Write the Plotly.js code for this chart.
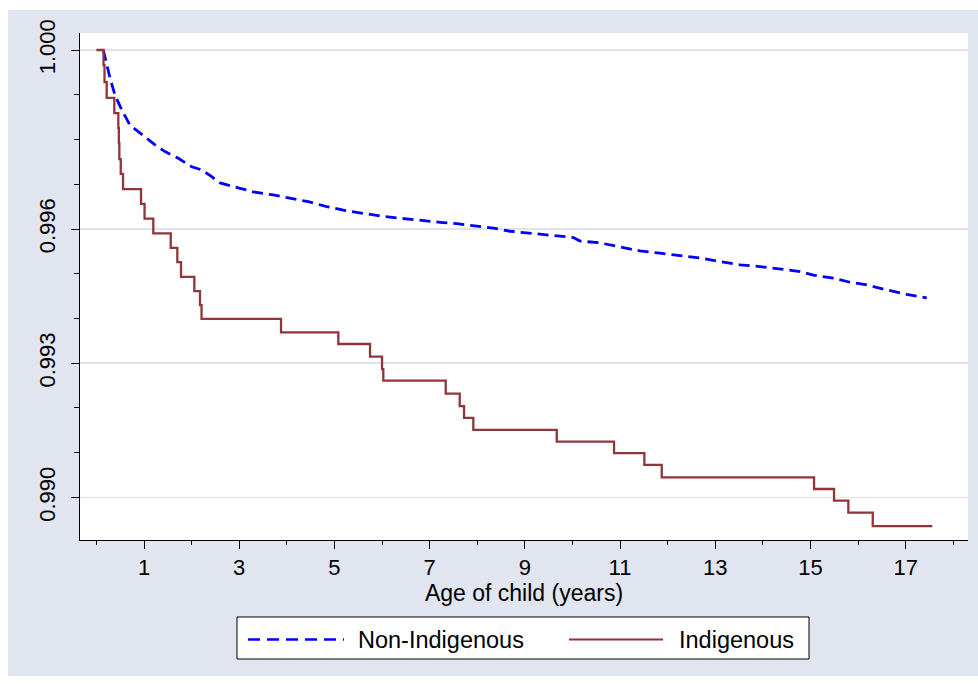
<!DOCTYPE html>
<html>
<head>
<meta charset="utf-8">
<script src="https://cdn.plot.ly/plotly-3.0.1.min.js"></script>
<style>
  html, body { margin: 0; padding: 0; background: #ffffff; }
  #chart { position: absolute; left: 8px; top: 10px; width: 970px; height: 666px; }
</style>
</head>
<body>
<div id="chart"></div>
<script>
// ---- Data ----
const seriesNames = ["Non-Indigenous", "Indigenous"];

// Non-Indigenous survival (Kaplan-Meier, many small steps)
const nonIndigAge = [0.145, 0.216, 0.286, 0.391, 0.532, 0.706, 0.880, 1.021, 1.231, 1.441,
  1.721, 2.002, 2.212, 2.422, 2.597, 3.017, 3.296, 3.716, 4.067, 4.452, 4.838, 5.187,
  5.607, 5.958, 6.378, 6.798, 7.218, 7.569, 7.989, 8.338, 8.689, 9.179, 9.494, 10.019,
  10.160, 10.580, 10.996, 11.420, 11.840, 12.261, 12.681, 13.101, 13.521, 13.941,
  14.361, 14.782, 15.061, 15.481, 15.832, 16.183, 16.603, 17.023, 17.443];
const nonIndigSurv = [1.00000, 0.99966, 0.99937, 0.99899, 0.99866, 0.99832, 0.99817,
  0.99806, 0.99788, 0.99773, 0.99758, 0.99739, 0.99732, 0.99717, 0.99703, 0.99691,
  0.99683, 0.99676, 0.99669, 0.99661, 0.99650, 0.99642, 0.99635, 0.99629, 0.99624,
  0.99619, 0.99615, 0.99612, 0.99607, 0.99602, 0.99595, 0.99590, 0.99587, 0.99581,
  0.99573, 0.99569, 0.99560, 0.99551, 0.99546, 0.99540, 0.99535, 0.99527, 0.99520,
  0.99516, 0.99510, 0.99505, 0.99497, 0.99490, 0.99481, 0.99475, 0.99464, 0.99454,
  0.99446];

// Indigenous survival (step function)
const indigAge = [0, 0.149, 0.170, 0.216, 0.376, 0.460, 0.471, 0.481, 0.511, 0.559,
  0.937, 1.011, 1.195, 1.561, 1.700, 1.777, 2.057, 2.176, 2.208, 3.878, 5.082, 5.748,
  6.000, 6.027, 7.338, 7.632, 7.723, 7.918, 9.670, 10.874, 11.511, 11.876, 15.076,
  15.496, 15.796, 16.309, 17.561];
const indigSurv = [1.00000, 0.99966, 0.99928, 0.99893, 0.99859, 0.99826, 0.99792,
  0.99756, 0.99723, 0.99689, 0.99656, 0.99623, 0.99590, 0.99558, 0.99526, 0.99493,
  0.99461, 0.99430, 0.99399, 0.99369, 0.99343, 0.99315, 0.99287, 0.99261, 0.99232,
  0.99204, 0.99178, 0.99151, 0.99125, 0.99099, 0.99073, 0.99045, 0.99019, 0.98993,
  0.98966, 0.98936, 0.98936];

const xTickVals = [1, 3, 5, 7, 9, 11, 13, 15, 17];
const xTickText = ["1", "3", "5", "7", "9", "11", "13", "15", "17"];
const yTickVals = [0.990, 0.993, 0.996, 1.000];
const yTickText = ["0.990", "0.993", "0.996", "1.000"];
const xTitle = "Age of child (years)";

// ---- Styling ----
const FONT = "Liberation Sans, Arial, Helvetica, sans-serif";
const FS = 22;
const FS_LEG = 23.5;
const BLUE = "#0000ff";
const MAROON = "#903538";
const BG = "#e1e5ef";

const traces = [
  {
    x: nonIndigAge, y: nonIndigSurv, name: seriesNames[0], type: "scatter", mode: "lines",
    line: { color: BLUE, width: 2.8, dash: "11px,6px", shape: "linear" },
    hoverinfo: "x+y+name"
  },
  {
    x: indigAge, y: indigSurv, name: seriesNames[1], type: "scatter", mode: "lines",
    line: { color: MAROON, width: 2.3, shape: "hv" },
    hoverinfo: "x+y+name"
  }
];

// custom legend (paper coordinates)
function px2paperX(p) { return (p - 80) / 888; }
function px2paperY(p) { return (540 - p) / 507; }

const legendY = px2paperY(639.5);
const shapes = [
  { type: "rect", xref: "paper", yref: "paper",
    x0: px2paperX(237), x1: px2paperX(809), y0: px2paperY(659), y1: px2paperY(617),
    line: { color: "#000000", width: 1 }, fillcolor: "#ffffff", layer: "above" },
  { type: "line", xref: "paper", yref: "paper",
    x0: px2paperX(248), x1: px2paperX(344), y0: legendY, y1: legendY,
    line: { color: BLUE, width: 2.5, dash: "12px,7px" } },
  { type: "line", xref: "paper", yref: "paper",
    x0: px2paperX(569), x1: px2paperX(663), y0: legendY, y1: legendY,
    line: { color: MAROON, width: 2 } }
];

const annotations = [
  { xref: "paper", yref: "paper", x: px2paperX(356), y: legendY, xanchor: "left", yanchor: "middle",
    text: seriesNames[0], showarrow: false, font: { family: FONT, size: FS_LEG, color: "#000" } },
  { xref: "paper", yref: "paper", x: px2paperX(677), y: legendY, xanchor: "left", yanchor: "middle",
    text: seriesNames[1], showarrow: false, font: { family: FONT, size: FS_LEG, color: "#000" } }
];

const layout = {
  width: 970, height: 666,
  paper_bgcolor: BG, plot_bgcolor: "#ffffff",
  margin: { l: 72, r: 10, t: 23, b: 136, pad: 0 },
  showlegend: false,
  font: { family: FONT, size: FS, color: "#000000" },
  xaxis: {
    range: [-0.345, 18.31],
    tickmode: "array", tickvals: xTickVals, ticktext: xTickText,
    ticks: "outside", ticklen: 8, tickwidth: 1, tickcolor: "#000",
    minor: { tickmode: "linear", tick0: 0, dtick: 1, ticks: "outside", ticklen: 4, tickwidth: 1, tickcolor: "#000", showgrid: false },
    showline: true, linecolor: "#000", linewidth: 1,
    showgrid: false, zeroline: false,
    tickfont: { family: FONT, size: FS, color: "#000" },
    ticklabelstandoff: 0,
    title: { text: xTitle, font: { family: FONT, size: 23, color: "#000" }, standoff: 0 },
    automargin: false
  },
  yaxis: {
    range: [0.98905, 1.00038],
    tickmode: "array", tickvals: yTickVals, ticktext: yTickText,
    tickangle: -90,
    ticks: "outside", ticklen: 8, tickwidth: 1, tickcolor: "#000",
    minor: { tickmode: "linear", tick0: 0.990, dtick: 0.001, ticks: "outside", ticklen: 5, tickwidth: 1, tickcolor: "#000", showgrid: false },
    showline: true, linecolor: "#000", linewidth: 1,
    showgrid: true, gridcolor: "#dfe3ee", gridwidth: 1.5,
    zeroline: false,
    tickfont: { family: FONT, size: FS, color: "#000" },
    ticklabelstandoff: 7,
    automargin: false
  },
  shapes: shapes,
  annotations: annotations
};

Plotly.newPlot("chart", traces, layout, { displayModeBar: false, staticPlot: true });
</script>
</body>
</html>
